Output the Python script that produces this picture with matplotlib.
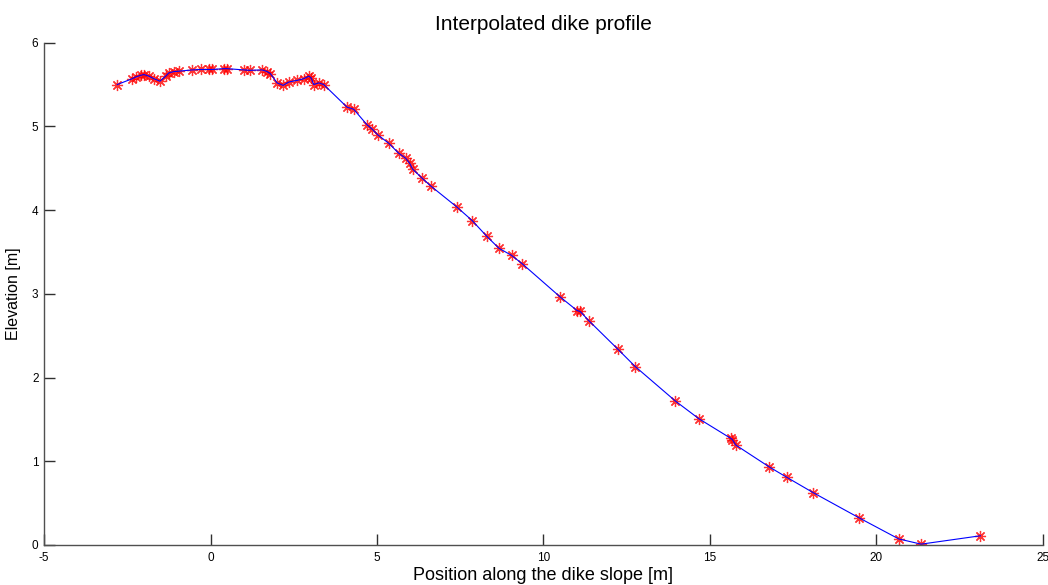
import matplotlib
matplotlib.use('Agg')
import matplotlib.pyplot as plt

plt.rcParams['font.family'] = ['Liberation Sans', 'DejaVu Sans']
plt.rcParams['axes.unicode_minus'] = False

# profile points
pos = [-2.80, -2.35, -2.25, -2.10, -2.00, -1.85, -1.70, -1.52, -1.35, -1.25,
       -1.10, -0.95, -0.55, -0.30, -0.05, 0.05, 0.40, 0.50, 1.00, 1.18,
       1.55, 1.70, 1.80, 2.00, 2.18, 2.35, 2.60, 2.80, 2.95, 3.02,
       3.10, 3.25, 3.40, 4.10, 4.30, 4.70, 4.85, 5.02, 5.35, 5.65,
       5.86, 5.98, 6.07, 6.36, 6.61, 7.39, 7.86, 8.29, 8.66, 9.04,
       9.36, 10.51, 11.01, 11.10, 11.36, 12.23, 12.76, 13.96, 14.66, 15.62,
       15.67, 15.77, 16.77, 17.30, 18.10, 19.47, 20.67, 21.34, 23.12]
elev = [5.50, 5.57, 5.59, 5.61, 5.62, 5.60, 5.57, 5.54, 5.60, 5.64,
        5.655, 5.66, 5.675, 5.68, 5.68, 5.68, 5.69, 5.69, 5.675, 5.67,
        5.675, 5.655, 5.63, 5.52, 5.49, 5.53, 5.55, 5.57, 5.60, 5.58,
        5.50, 5.52, 5.50, 5.23, 5.205, 5.02, 4.97, 4.90, 4.80, 4.68,
        4.62, 4.56, 4.49, 4.38, 4.29, 4.04, 3.875, 3.69, 3.545, 3.46,
        3.36, 2.96, 2.80, 2.79, 2.68, 2.34, 2.13, 1.72, 1.51, 1.275,
        1.26, 1.195, 0.935, 0.81, 0.625, 0.326, 0.072, 0.01, 0.11]

xticks = [-5, 0, 5, 10, 15, 20, 25]
yticks = [0, 1, 2, 3, 4, 5, 6]

fig = plt.figure(figsize=(10.48, 5.85), dpi=100)
ax = fig.add_axes([0.042, 0.0684, 0.9532, 0.8586])

ax.plot(pos, elev, color='red', linestyle='none', marker=(8, 2, 0),
        markersize=8, markeredgewidth=0.9, alpha=0.8)
ax.plot(pos, elev, color='blue', linewidth=0.8)

ax.set_xlim(-5, 25)
ax.set_ylim(0, 6)
ax.set_xticks(xticks)
ax.set_yticks(yticks)

for s in ['top', 'right']:
    ax.spines[s].set_visible(False)
for s in ['left', 'bottom']:
    ax.spines[s].set_color('#505050')
    ax.spines[s].set_linewidth(1.0)

ax.tick_params(direction='in', length=7.8, width=1.0, color='#303030',
               labelsize=8.5, pad=4)
ax.tick_params(axis='x', pad=5)

ax.set_title('Interpolated dike profile', fontsize=15, pad=9)
ax.set_xlabel('Position along the dike slope [m]', fontsize=13, labelpad=2)
ax.set_ylabel('Elevation [m]', fontsize=11.5, labelpad=8)

fig.savefig('out.png', dpi=100)
